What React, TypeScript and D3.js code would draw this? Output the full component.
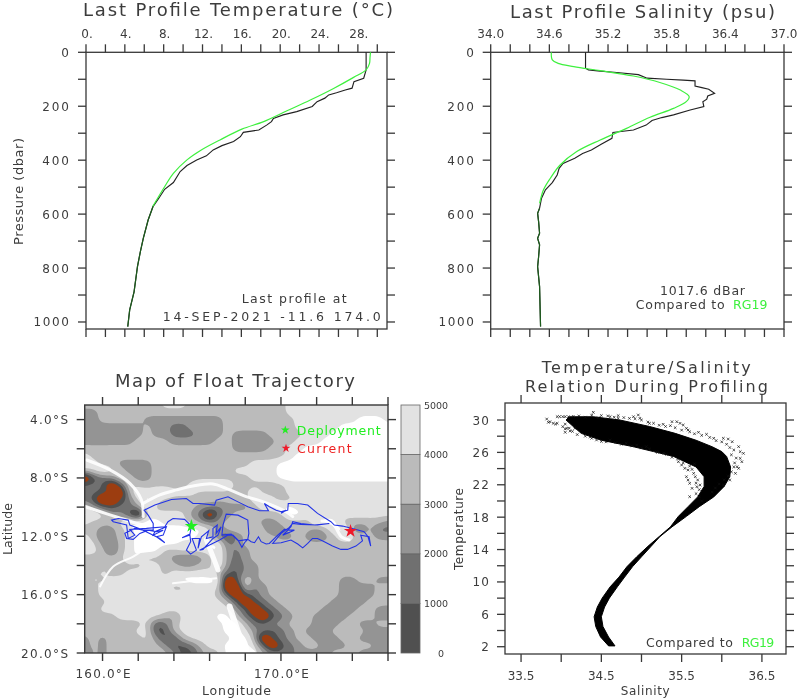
import React from 'react';
import * as d3 from 'd3';

// ---- Profile data (value, pressure) ----
const tempObsT = [28.85,28.85,28.8,28.6,27.6,27.4,26.7,25.8,25,24.6,23.8,23.3,21.7,20.3,19.3,19.1,18.6,17.8,16.2,15.9,15.2,14,13.1,12.4,11.4,10.4,9.7,9,8.1,7.5,6.9,6.4,5.9,5.6,5.3,4.95,4.5,4.3];
const tempObsP = [0,65,72,96,109,133,140,150,158,170,183,201,220,232,245,257,270,288,297,313,331,346,362,384,399,420,442,483,508,541,572,622,690,739,795,888,955,1017];
const tempRefT = [29.3,29.25,29.2,28.85,27.56,25.5,23.1,20.7,18.3,16.05,13.8,11.75,10.4,9.0,8.0,6.87];
const tempRefP = [0,20,41,65,93,134,177,217,257,285,325,365,399,449,504,572];

const salObsS = [34.97,34.97,35.0,35.12,35.29,35.51,35.6,35.8,35.97,36.09,36.09,36.16,36.23,36.29,36.22,36.21,36.17,36.18,36.04,35.87,35.75,35.65,35.59,35.46,35.25,35.24,35.13,35.03,34.94,34.86,34.74,34.7,34.68,34.63,34.56,34.52,34.5,34.48,34.49,34.5,34.48,34.5,34.49,34.48,34.5,34.51];
const salObsP = [0,59,65,70,75,83,96,100,103,106,125,131,137,152,162,174,183,201,214,232,242,253,270,288,297,319,341,362,375,393,412,430,455,483,510,541,578,597,628,671,690,714,758,795,869,1017];
const salRefS = [34.62,34.63,34.69,34.85,35.12,35.46,35.73,35.94,36.03,36.0,35.87,35.63,35.39,35.12,34.88,34.71,34.61,34.54,34.5];
const salRefP = [0,28,41,53,68,88,112,140,164,183,208,241,282,325,368,418,467,510,560];

// ---- T/S envelope: temperature level, low and high salinity of the dense cloud ----
const tsLevelT = [2.1,3.2,4.5,5.7,6.9,8,9.4,10.6,11.9,13.1,14.4,15.6,16.8,18.1,19.3,20.5,21.8,23,24.2,25.5,26.1,26.7,27.5,28.35,29.2,30,30.4];
const tsLowS = [34.59,34.49,34.43,34.41,34.45,34.51,34.61,34.72,34.82,34.94,35.08,35.22,35.36,35.46,35.58,35.70,35.78,35.78,35.68,35.40,35.15,34.9,34.5,34.25,34.15,34.06,34.1];
const tsHighS = [34.67,34.59,34.52,34.5,34.54,34.6,34.7,34.79,34.89,35.0,35.12,35.23,35.38,35.56,35.72,35.9,36.03,36.1,36.11,36.06,36.0,35.88,35.68,35.42,35.1,34.73,34.4];
// scattered single casts outside the dense cloud
const tsOutS = [33.82,33.84,33.86,33.90,33.93,33.95,33.95,33.98,34.02,34.05,34.09,34.02,34.05,34.07,34.05,34.11,34.17,34.40,34.46,34.61,34.71,34.71,34.90,34.96,34.98,35.10,35.27,35.38,35.44,35.48,35.52,35.56,35.58,35.71,35.81,35.90,36.02,36.08,36.13,36.21,36.23,36.27,36.23,36.25,36.19,36.21,36.17,36.10,36.02,34.38,34.44,34.61,34.81,34.94,35.06,35.19,35.31,35.46,35.50,35.54,35.58,35.56,35.58,35.60,35.63,35.60,35.69,35.67,35.65,35.73,
34.15,34.22,34.30,34.38,34.50,34.58,34.66,34.78,34.85,34.92,35.00,35.08,35.15,35.22,35.30,35.36,35.42,35.50,35.60,35.66,35.75,35.85,35.93,36.00,36.06,36.10,36.15,36.12,36.18,36.16,36.15,36.12,36.08,36.03,35.97,35.92,35.88,
34.05,34.10,34.14,34.20,34.30,34.36,34.50,34.56,34.68,34.75,34.88,35.00,35.10,35.20,35.28,35.38,35.45,35.52,35.60,35.63,35.66,35.70,35.68,35.72,35.68,35.72,35.75];
const tsOutT = [30.12,29.71,29.79,29.59,29.50,29.59,30.41,30.41,30.41,30.41,30.41,29.18,28.89,28.97,28.48,28.64,28.97,30.95,30.29,30.41,30.54,30.21,30.41,30.62,30.21,29.59,29.47,29.79,29.79,29.59,29.38,28.97,28.76,28.48,28.23,27.74,27.74,27.65,27.32,26.71,26.09,25.88,25.26,24.85,24.23,24.03,23.41,22.59,21.97,27.74,27.53,27.53,27.12,26.91,26.71,26.09,25.76,24.85,24.44,24.03,23.82,23.00,22.59,22.18,21.56,20.53,21.76,23.00,23.41,21.97,
30.45,30.50,30.35,30.60,30.55,30.50,30.35,30.30,30.20,30.15,30.00,29.75,29.60,29.35,29.20,29.30,29.05,28.75,28.55,28.30,28.10,27.85,27.45,27.30,27.00,26.60,26.30,25.70,25.30,24.70,24.20,23.60,23.10,22.60,22.10,21.60,21.10,
29.50,29.00,28.60,28.20,28.00,27.90,27.35,27.30,27.20,27.00,26.80,26.55,26.40,26.00,25.90,25.40,25.20,24.70,24.30,23.90,24.60,22.60,22.20,21.40,20.90,20.50,20.00];

// ---- Float trajectory ----
const trackLon = [164.98,164.89,164.46,164.89,164.94,164.70,164.94,165.26,165.02,165.44,165.35,165.54,165.95,165.82,166.19,166.19,166.43,166.37,166.65,166.47,166.19,165.63,165.44,166.00,166.56,167.03,167.31,167.59,167.81,167.96,168.14,168.20,168.14,167.59,166.93,166.75,166.69,167.21,167.62,168.14,168.33,168.52,168.74,168.89,169.17,169.35,169.82,170.19,170.75,170.10,170.29,170.56,170.66,171.12,171.87,172.71,172.05,171.12,170.66,170.47,170.01,169.54,170.01,170.56,170.94,171.22,171.50,171.77,172.05,172.43,172.89,173.36,173.73,174.20,174.57,174.47,174.94,175.03,174.88,174.66,174.01,173.45,172.99,172.80,172.05,171.50,170.94,170.41,170.38,170.10,170.01,170.29,170.01,169.73,169.35,169.07,169.30,168.80,168.14,167.59,167.03,166.37,166.28,165.44,165.07,164.70,163.86,162.93,162.33,162.56,162.84,162.84,162.28,161.81,161.25,161.35,161.72,162.09,162.56,163.02,163.40,162.84,162.93,163.58,163.40,163.02,163.49,163.21,162.19,161.53,161.44,160.88,160.51,160.60,161.35,161.44,161.81,161.53,162.46,163.49,163.67,163.95,164.60,164.98];
const trackLat = [-11.30,-11.92,-12.10,-11.85,-12.37,-12.95,-13.22,-12.95,-12.15,-12.15,-12.83,-12.03,-11.62,-12.15,-12.03,-11.46,-11.23,-11.80,-11.35,-11.92,-12.15,-12.90,-12.95,-12.60,-12.26,-11.92,-11.92,-12.26,-12.76,-12.44,-12.21,-11.80,-10.89,-10.55,-10.48,-11.23,-11.92,-11.85,-12.31,-12.21,-12.37,-12.44,-12.03,-12.37,-12.53,-12.49,-11.92,-11.53,-11.58,-11.92,-11.69,-11.35,-11.00,-11.12,-11.23,-11.12,-11.23,-11.19,-11.12,-11.39,-11.80,-12.49,-12.44,-12.26,-12.53,-12.79,-12.49,-12.15,-12.15,-12.37,-12.67,-12.90,-12.90,-12.67,-12.31,-11.92,-12.03,-12.67,-12.03,-11.69,-11.46,-11.30,-11.23,-11.00,-10.43,-9.86,-9.75,-9.75,-10.21,-10.32,-10.43,-10.21,-10.32,-10.21,-9.98,-9.75,-10.25,-10.25,-9.98,-9.64,-9.29,-9.52,-9.86,-9.75,-9.75,-9.41,-9.48,-9.86,-10.21,-10.55,-11.12,-11.58,-11.58,-11.46,-11.80,-12.15,-12.21,-11.80,-11.58,-11.69,-11.58,-11.92,-11.69,-11.35,-11.92,-12.03,-12.44,-12.15,-11.53,-11.23,-10.89,-10.78,-10.89,-11.00,-11.23,-12.15,-11.92,-11.53,-11.46,-11.35,-11.00,-10.78,-10.84,-11.30];
const deployPos = [164.98, -11.30];
const currentPos = [173.9, -11.64];

// ---- Bathymetry, depth class per half degree (north to south); b = above sea level, n = n000-(n+1)000 m ----
const depthRows = [
'333333333 444 33333333333 444444444 444',
'22 333333333333333333333 444444444444',
'22 33333 222222222 33333333 4444444 5554',
'2222222 3 22 11 2222 33333333 44444 555555',
'2 1 22222 3 22 111 222 3 2222 3333 444 5555555',
'222222 3333 22222 33 22222 33 444 55555555',
'33333333333333333 2222 33 44 5555555555',
'4 3333333333333333333333 4 55555555555',
'5 4 33 2222 33333333333 444 5555555555555',
'3 4 5 4 3 222 333333333 44444 5555555555555',
'b 0 1 2 4 3 22 33333333333 444 5555555555555',
'111 b 0 4 333333 4 5555 333333 444444444444',
'1 1 0 0 b 3 5 4 55 444 333333 5 333 444444444444',
'1 0 bb 0 1 4 5 4 3333333333 4 5 4 33 44444444444',
'4 2 1 0 1 1 2 5 33333 22 1 222 3 44 55 44444444444',
'55 4 22 0 b 44444 2 1 b 1 2 333333 55 4444444444',
'4 333 4 5555 4 44 3 2 1 2 3333 22 3 3 33 555 33 3 3 3 2',
'33 22 3 4 55555555 4 2 3 4 333 1 2 333 2 3 55 2 1 3 11',
'4 3 1 2 3 4 5555555 4 3 1 0 1 3333 22 3 2 1 2 3 5 4 33 22',
'44 2 1 3 4 55555 444 55 1 2 33333333333333333',
'44 3 1 3 4 555 33 4444 5 2 1 2 3333333333333333',
'33333 5 4 333 2 11 2 3 5 2 1 2 3333333333333333',
'333 4 333 44 33 22 33 5 2 0 22 333333333333333',
'33 4 33 4444 3 44444 3 1 0 22 333333333333333',
'3 4 3 44444444 55555 b 0 4 2 333333333 22 33 22',
'33 44444444 33 4444 bb 4 1 2 33333333 22 22 33',
'33 4444444444444 3 1 b 0 1 2 33333333 2222 33',
'333 4444444444444 3 1 b 0 1 2 333333 2222 333',
'33 44444444444444 4 2 1 b 0 1 2 3333 2222 33 22',
'33 33 44444 3 2 4444 55 3 1 0 b 0 1 2 33 2222 333 22',
'3333333 4 0 1 3 44444 55 3 11 22 3 33 222 33 22 33',
'333333 44 00 3 44444 55 4 2 1 0 1 2 3 222 3333 222',
'2 3 2 3333 4 2 00 3 44444 55 3 b 0 1 2 33 222 33 2222',
'2 3 2 333333 2 00 1 3 44 555 4 1 b 0 1 2 33 222 333 22',
'1 3 2 3333333 2 00 2 33 555 4 3 2 1 1 2 222 333 2222',
];
const depthThresholds = [0, 1000, 2000, 3000, 4000, 5000];
const depthFills = ['#505050', '#707070', '#949494', '#bbbbbb', '#e2e2e2', '#ffffff'];
const landFill = '#9c3d10';
const landLevel = -3000;

// Thin trenches too narrow for the half-degree table: [lon, lat, lon, lat, ...]
const trenchNorth = [162.28,-9.74,163.21,-9.16,164.14,-8.82,165.07,-8.55,166.19,-8.41,166.93,-8.71,168.05,-9.28,168.98,-9.62,170.28,-10.31,170.66,-10.65];
const trenchEast = [172.3,-10.95,172.89,-11.1,173.4,-12.05,173.82,-12.25];
const trenchNW = [159.11,-6.77,160.42,-7.45,161.53,-8.37,162.18,-9.51,162.28,-10.65];
const trenchWest = [159,-9.96,160.42,-10.53,161.9,-11.1,162.65,-11.33];
const trenchSouth = [165.82,-12.25,166.19,-13.39,166.47,-14.3];
const trenchFar = [167.12,-16.81,167.49,-18.18,167.86,-19.32,168.42,-20];
const streakA = [159.86,-15.44,160.6,-14.07,161.72,-13.39,162.28,-12.93];
const streakB = [163.95,-15.22,166.37,-14.87];
const trenchWidths = [3, 3, 3, 3, 5, 6, 2, 2];

// ---- Ticks ----
const tempTickLabels = [0, 4, 8, 12, 16, 20, 24, 28];
const presTickLabels = [0, 200, 400, 600, 800, 1000];
const salTickLabels = [34.0, 34.6, 35.2, 35.8, 36.4, 37.0];
const latTickLabels = [-4, -8, -12, -16, -20];
const lonTickLabels = [160, 170];
const tsSalLabels = [33.5, 34.5, 35.5, 36.5];
const tsTempLabels = [2, 6, 10, 14, 18, 22, 26, 30];
const barLevels = [0, 1000, 2000, 3000, 4000, 5000];

const FONT = '"DejaVu Sans", sans-serif';
const INK = '#3c3c3c';
const LINE = '#383838';
const GREEN = '#3ef03e';

// scales
const tX = d3.scaleLinear([0, 31], [86, 387]);
const pY = d3.scaleLinear([0, 1026], [52.3, 329]);
const sX = d3.scaleLinear([34, 37], [490.7, 784]);
const lonX = d3.scaleLinear([159, 176], [84.7, 388]);
const latY = d3.scaleLinear([-3, -20], [405, 653]);
const tsX = d3.scaleLinear([33.3, 36.8], [505, 786]);
const tsY = d3.scaleLinear([32.1, 1.1], [403, 654]);
const barY = d3.scaleLinear([0, 5000], [653, 405]);

type TP = { x: number; y: number; w?: number; size?: number; fill?: string; anchor?: string; rot?: boolean; children: React.ReactNode };
function Txt({ x, y, w, size = 12, fill = INK, anchor = 'start', rot, children }: TP) {
  return (
    <text
      x={x}
      y={y}
      fontFamily={FONT}
      fontSize={size}
      fill={fill}
      textAnchor={anchor}
      textLength={w}
      lengthAdjust="spacing"
      transform={rot ? `rotate(-90 ${x} ${y})` : undefined}
    >
      {children}
    </text>
  );
}

function Frame({ x0, x1, y0, y1, xt, yt, w = 1.3 }: { x0: number; x1: number; y0: number; y1: number; xt: number[]; yt: number[]; w?: number }) {
  const len = 8;
  return (
    <g stroke={LINE} strokeWidth={w} fill="none">
      <rect x={x0} y={y0} width={x1 - x0} height={y1 - y0} />
      {xt.map((v, i) => (
        <g key={i}>
          <line x1={v} x2={v} y1={y0} y2={y0 - len} />
          <line x1={v} x2={v} y1={y1} y2={y1 + len} />
        </g>
      ))}
      {yt.map((v, i) => (
        <g key={i}>
          <line x1={x0} x2={x0 - len} y1={v} y2={v} />
          <line x1={x1} x2={x1 + len} y1={v} y2={v} />
        </g>
      ))}
    </g>
  );
}

const profile = (xs: number[], ps: number[], sx: d3.ScaleLinear<number, number>, curve: d3.CurveFactory = d3.curveLinear) =>
  d3.line<number>().curve(curve).x((d) => sx(d)).y((_, i) => pY(ps[i]))(xs) as string;

// bilinear refinement then a light blur of the depth table, so that contours follow the read values smoothly
function refineDepth(vals: number[], n: number, m: number, k: number) {
  const W = (n - 1) * k + 1;
  const H = (m - 1) * k + 1;
  const data = new Array(W * H);
  for (let y = 0; y < H; y++) {
    const fy = y / k;
    const y0 = Math.min(Math.floor(fy), m - 2);
    const ty = fy - y0;
    for (let x = 0; x < W; x++) {
      const fx = x / k;
      const x0 = Math.min(Math.floor(fx), n - 2);
      const tx = fx - x0;
      const a = vals[y0 * n + x0];
      const b = vals[y0 * n + x0 + 1];
      const c = vals[(y0 + 1) * n + x0];
      const e = vals[(y0 + 1) * n + x0 + 1];
      data[y * W + x] = a * (1 - tx) * (1 - ty) + b * tx * (1 - ty) + c * (1 - tx) * ty + e * tx * ty;
    }
  }
  d3.blur2({ data, width: W, height: H }, 1.2);
  return { data, W, H };
}

export default function App() {
  const depthVals = depthRows.flatMap((r) =>
    [...r.replace(/ /g, '')].map((c) => (c === 'b' ? landLevel : +c * 1000 + 500))
  );
  const k = 4;
  const { data, W, H } = refineDepth(depthVals, 35, 35, k);
  const contours = d3.contours().size([W, H]).thresholds(depthThresholds)(data);
  const geo = d3.geoPath(
    d3.geoTransform({
      point(x: number, y: number) {
        (this as any).stream.point(lonX(159 + 0.5 * ((x - 0.5) / k)), latY(-3 - 0.5 * ((y - 0.5) / k)));
      },
    })
  );
  const track = d3.line<number>().x((d) => lonX(d)).y((_, i) => latY(trackLat[i]))(trackLon) as string;
  const star = (size: number) => d3.symbol(d3.symbolStar, size)() as string;
  const pairLine = (a: number[]) =>
    d3.line<number>().curve(d3.curveCatmullRom).x((d) => lonX(d)).y((_, i) => latY(a[i * 2 + 1]))(a.filter((_, i) => i % 2 === 0)) as string;
  const trenches = [trenchNorth, trenchEast, trenchNW, trenchWest, trenchSouth, trenchFar, streakA, streakB];

  const cloud =
    d3.line<number>().x((d) => tsX(d)).y((_, i) => tsY(tsLevelT[i]))(tsLowS) +
    ' ' +
    (d3
      .line<number>()
      .x((d) => tsX(d))
      .y((_, i) => tsY(tsLevelT[tsLevelT.length - 1 - i]))([...tsHighS].reverse()) as string).replace(/^M/, 'L') +
    'Z';

  return (
    <svg
      width={800}
      height={700}
      viewBox="0 0 800 700"
      style={{ position: 'absolute', left: 0, top: 0, background: '#fff', filter: 'blur(0.4px)' }}
    >
      <defs>
        <clipPath id="mapClip">
          <rect x={84.7} y={405} width={303.3} height={248} />
        </clipPath>
      </defs>

      {/* Temperature profile */}
      <Txt x={83} y={16} w={310} size={18}>Last Profile Temperature (°C)</Txt>
      {tempTickLabels.map((v) => (
        <Txt key={v} x={tX(v) + 1} y={37.5} size={12} anchor="middle">{v + '.'}</Txt>
      ))}
      <Frame x0={tX(0)} x1={tX(31)} y0={pY(0)} y1={pY(1026)} xt={d3.range(0, 32, 2).map((v) => tX(v))} yt={d3.range(0, 1001, 100).map((v) => pY(v))} />
      {presTickLabels.map((v) => (
        <Txt key={v} x={69} y={pY(v) + 4.5} anchor="end" size={12} w={String(v).length * 8.9}>{v}</Txt>
      ))}
      <Txt x={23} y={245} rot w={107} size={13}>Pressure (dbar)</Txt>
      <path d={profile(tempObsT, tempObsP, tX)} fill="none" stroke="#222" strokeWidth={1.15} />
      <path d={profile(tempRefT, tempRefP, tX, d3.curveCatmullRom)} fill="none" stroke={GREEN} strokeWidth={1.2} />
      <path d={profile(tempObsT.slice(30), tempObsP.slice(30), tX)} fill="none" stroke="#1c5c1c" strokeWidth={1.2} />
      <Txt x={241.7} y={303} w={105} size={12.5}>Last profile at</Txt>
      <Txt x={162.7} y={320.7} w={218} size={12.5}>14-SEP-2021  -11.6 174.0</Txt>

      {/* Salinity profile */}
      <Txt x={510} y={18} w={265} size={18}>Last Profile Salinity (psu)</Txt>
      {salTickLabels.map((v) => (
        <Txt key={v} x={sX(v)} y={37.5} size={12} anchor="middle">{v.toFixed(1)}</Txt>
      ))}
      <Frame x0={sX(34)} x1={sX(37)} y0={pY(0)} y1={pY(1026)} xt={d3.range(0, 16).map((v) => sX(34 + v * 0.2))} yt={d3.range(0, 1001, 100).map((v) => pY(v))} />
      {presTickLabels.map((v) => (
        <Txt key={v} x={474} y={pY(v) + 4.5} anchor="end" size={12} w={String(v).length * 8.9}>{v}</Txt>
      ))}
      <path d={profile(salObsS, salObsP, sX)} fill="none" stroke="#222" strokeWidth={1.15} />
      <path d={profile(salRefS, salRefP, sX, d3.curveCatmullRom)} fill="none" stroke={GREEN} strokeWidth={1.2} />
      <path d={profile(salObsS.slice(36), salObsP.slice(36), sX)} fill="none" stroke="#1c5c1c" strokeWidth={1.2} />
      <Txt x={660} y={295} w={85} size={12.5}>1017.6 dBar</Txt>
      <Txt x={635.7} y={308.7} w={89} size={12.5}>Compared to</Txt>
      <Txt x={733} y={308.7} w={34.5} size={12.5} fill={GREEN}>RG19</Txt>

      {/* Map */}
      <Txt x={115} y={387} w={240} size={18}>Map of Float Trajectory</Txt>
      <g clipPath="url(#mapClip)">
        <rect x={84.7} y={405} width={303.3} height={248} fill={landFill} />
        {contours.map((c, i) => (
          <path key={i} d={geo(c as any) as string} fill={depthFills[i]} />
        ))}
        {trenches.map((t, i) => (
          <path key={i} d={pairLine(t)} fill="none" stroke="#fff" strokeWidth={trenchWidths[i]} strokeLinecap="round" opacity={0.9} />
        ))}
        <path d={track} fill="none" stroke="#2233e6" strokeWidth={1.1} />
        <path d={star(55)} transform={`translate(${lonX(deployPos[0])},${latY(deployPos[1])})`} fill="#22ee22" />
        <path d={star(55)} transform={`translate(${lonX(currentPos[0])},${latY(currentPos[1])})`} fill="#ee1a2a" />
      </g>
      <path d={star(24)} transform="translate(285.3,430)" fill="#22ee22" />
      <path d={star(24)} transform="translate(286,448.3)" fill="#ee1a2a" />
      <Txt x={296.7} y={435} w={84} size={12.5} fill="#22ee22">Deployment</Txt>
      <Txt x={297} y={452.7} w={54.7} size={12.5} fill="#ee2222">Current</Txt>
      <Frame x0={lonX(159)} x1={lonX(176)} y0={latY(-3)} y1={latY(-20)} xt={d3.range(160, 177, 2).map((v) => lonX(v))} yt={d3.range(-4, -21, -2).map((v) => latY(v))} w={1.4} />
      {latTickLabels.map((v) => (
        <Txt key={v} x={68} y={latY(v) + 4.5} anchor="end" size={12} w={v < -9 ? 47 : 38}>{`${(-v).toFixed(1)}°S`}</Txt>
      ))}
      {lonTickLabels.map((v) => (
        <Txt key={v} x={lonX(v) - 27} y={678} size={12} w={55}>{`${v.toFixed(1)}°E`}</Txt>
      ))}
      <Txt x={202} y={695} w={69} size={12.5}>Longitude</Txt>
      <Txt x={12} y={555} rot w={52} size={12.5}>Latitude</Txt>

      {/* Colour bar */}
      {barLevels.slice(0, -1).map((v, i) => (
        <rect key={v} x={401} y={barY(v + 1000)} width={19} height={barY(v) - barY(v + 1000)} fill={depthFills[i]} stroke="#666" strokeWidth={0.8} />
      ))}
      {barLevels.map((v) => (
        <Txt key={v} x={v === 0 ? 438 : 424} y={barY(v) + 3.5} size={9.5} w={v === 0 ? undefined : 24}>{v}</Txt>
      ))}

      {/* T/S */}
      <Txt x={541.7} y={373} w={209} size={16}>Temperature/Salinity</Txt>
      <Txt x={525} y={391.7} w={243} size={16}>Relation During Profiling</Txt>
      <path d={cloud} fill="#000" stroke="#000" strokeWidth={1} strokeLinejoin="round" />
      <g stroke="#111" strokeWidth={0.7}>
        {tsOutS.map((s, i) => {
          const x = tsX(s);
          const y = tsY(tsOutT[i]);
          return (
            <path key={i} d={`M${x - 1.3},${y - 1.3}L${x + 1.3},${y + 1.3}M${x - 1.3},${y + 1.3}L${x + 1.3},${y - 1.3}`} />
          );
        })}
      </g>
      <Frame x0={tsX(33.3)} x1={tsX(36.8)} y0={tsY(32.1)} y1={tsY(1.1)} xt={d3.range(0, 7).map((v) => tsX(33.5 + v * 0.5))} yt={d3.range(2, 31, 2).map((v) => tsY(v))} />
      {tsTempLabels.map((v) => (
        <Txt key={v} x={489} y={tsY(v) + 4.5} anchor="end" size={12} w={v < 10 ? 8 : 16.5}>{v}</Txt>
      ))}
      {tsSalLabels.map((v) => (
        <Txt key={v} x={tsX(v)} y={680} size={12} anchor="middle">{v.toFixed(1)}</Txt>
      ))}
      <Txt x={620.7} y={695} w={49} size={12}>Salinity</Txt>
      <Txt x={463} y={570} rot w={82} size={12}>Temperature</Txt>
      <Txt x={646} y={646.7} w={87} size={12.5}>Compared to</Txt>
      <Txt x={741.7} y={646.7} w={32.5} size={12.5} fill={GREEN}>RG19</Txt>
    </svg>
  );
}
